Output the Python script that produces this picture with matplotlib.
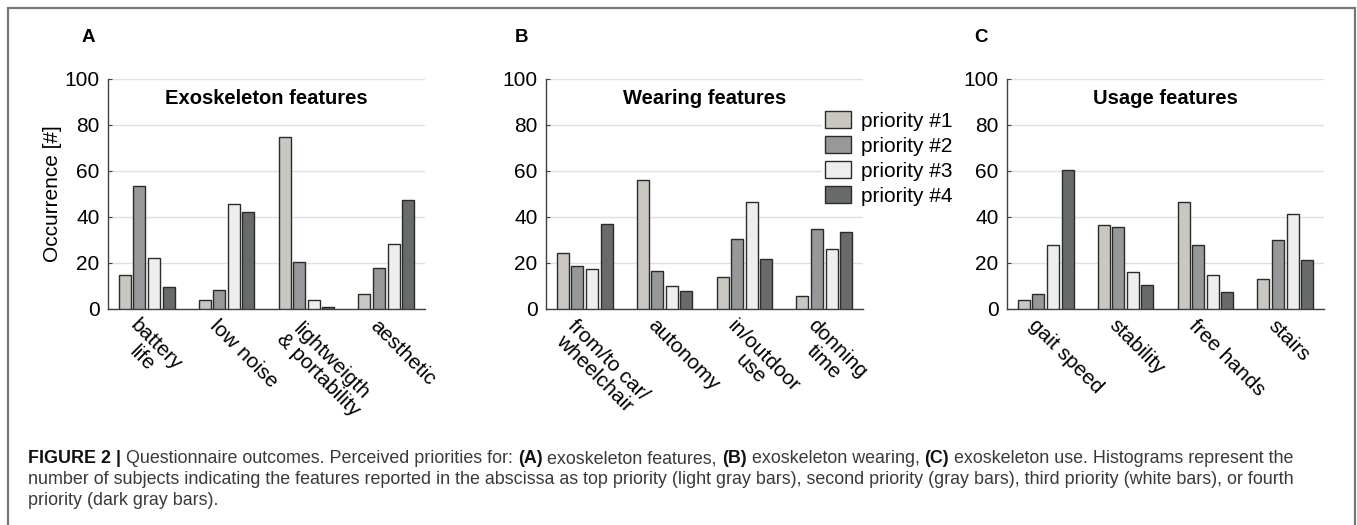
import numpy as np
import matplotlib
matplotlib.use("Agg")
from matplotlib import pyplot as plt
from matplotlib.patches import Rectangle

plt.rcParams['font.family'] = ['Liberation Sans', 'DejaVu Sans']

# data
priorities = ["priority #1", "priority #2", "priority #3", "priority #4"]
colors = ["#c9c7bf", "#97989a", "#eeeeee", "#686b6b"]

titles = ["Exoskeleton features", "Wearing features", "Usage features"]
letters = ["A", "B", "C"]

labels_A = ["battery\nlife", "low noise", "lightweigth\n& portability", "aesthetic"]
labels_B = ["from/to car/\nwheelchair", "autonomy", "in/outdoor\nuse", "donning\ntime"]
labels_C = ["gait speed", "stability", "free hands", "stairs"]

# rows = features, columns = priority #1..#4
vals_A = [[15, 53.3, 22.3, 9.4],
          [3.8, 8.4, 45.8, 42],
          [74.6, 20.6, 3.8, 0.9],
          [6.5, 17.8, 28.1, 47.5]]
vals_B = [[24.3, 18.6, 17.4, 37],
          [56.1, 16.4, 9.9, 7.7],
          [14.1, 30.4, 46.7, 21.7],
          [5.7, 34.8, 26.1, 33.6]]
vals_C = [[3.8, 6.5, 27.7, 60.6],
          [36.5, 35.5, 15.9, 10.6],
          [46.7, 28, 14.9, 7.4],
          [13, 30, 41.4, 21.3]]

W, H = 1357, 525
fig = plt.figure(figsize=(W/100, H/100), dpi=100)

# frame around the whole figure
fig.patches.append(Rectangle((8/W, -0.05), 1347/W, 1.05 - 8/H, transform=fig.transFigure,
                             fill=False, edgecolor="#777777", lw=1.6))

lefts = [108, 546, 1007]
panels = [(labels_A, vals_A), (labels_B, vals_B), (labels_C, vals_C)]
letter_x = [88, 522, 981]
step = 0.183
bw = 0.15

axes = []
for k, (labels, vals) in enumerate(panels):
    ax = fig.add_axes([lefts[k]/W, 1-309/H, 317/W, 230/H])
    axes.append(ax)
    vals = np.array(vals)
    x = np.arange(1, len(labels)+1)
    for j in range(4):
        ax.bar(x + (j-1.5)*step, vals[:, j], width=bw, color=colors[j],
               edgecolor="#2b2b2b", linewidth=1.0, label=priorities[j], zorder=3)
    ax.set_xlim(0.517, 4.483)
    ax.set_ylim(0, 100)
    ax.set_yticks([0, 20, 40, 60, 80, 100])
    ax.set_xticks([])
    ax.grid(axis="y", color="#e0e0e0", lw=1)
    ax.set_axisbelow(True)
    for s in ["top", "right"]:
        ax.spines[s].set_visible(False)
    for s in ["left", "bottom"]:
        ax.spines[s].set_color("#404040")
        ax.spines[s].set_linewidth(1)
    ax.tick_params(axis="y", direction="in", length=3, labelsize=15, pad=6, color="#404040")
    for i, lab in enumerate(labels):
        ax.annotate(lab, xy=(x[i], 0), xycoords="data", xytext=(-5, -5),
                    textcoords="offset points", rotation=-45, rotation_mode="anchor",
                    ha="left", va="top", multialignment="center", fontsize=15,
                    linespacing=1.0)
    ax.text(0.5, 0.917, titles[k], transform=ax.transAxes, ha="center", va="center",
            fontsize=14.5, fontweight="bold")
    fig.text(letter_x[k]/W, 1-37/H, letters[k], ha="center", va="center",
             fontsize=13.5, fontweight="bold")

axes[0].set_ylabel("Occurrence [#]", fontsize=15)
axes[0].yaxis.set_label_coords(-0.145, 0.5)

leg = axes[1].legend(loc="upper left", bbox_to_anchor=(822/W, 1-108/H),
                     bbox_transform=fig.transFigure, fontsize=15, frameon=True,
                     facecolor="white", edgecolor="none", framealpha=1,
                     handlelength=1.25, handleheight=0.87, handletextpad=0.45,
                     labelspacing=0.26, borderpad=0.15, borderaxespad=0)
leg.set_zorder(5)

# caption with bold pieces
caption = [
    [("FIGURE 2 |", True), (" Questionnaire outcomes. Perceived priorities for: ", False),
     ("(A)", True), (" exoskeleton features, ", False), ("(B)", True),
     (" exoskeleton wearing, ", False), ("(C)", True),
     (" exoskeleton use. Histograms represent the", False)],
    [("number of subjects indicating the features reported in the abscissa as top priority "
      "(light gray bars), second priority (gray bars), third priority (white bars), or fourth", False)],
    [("priority (dark gray bars).", False)],
]
baselines = [463, 484, 505]
renderer = fig.canvas.get_renderer()


def draw_line(parts, y, fs):
    xpos = 28
    items = []
    for txt, bold in parts:
        t = fig.text(xpos/W, 1-y/H, txt, fontsize=fs, va="baseline", ha="left",
                     fontweight="bold" if bold else "normal",
                     color="#111111" if bold else "#3a3a3a")
        bb = t.get_window_extent(renderer)
        xpos += bb.width
        items.append(t)
    return xpos, items


# fit the first caption line to the measured width
end, items = draw_line(caption[0], baselines[0], 10)
for t in items:
    t.remove()
fs = 10 * (1294 - 28) / (end - 28)
for parts, y in zip(caption, baselines):
    draw_line(parts, y, fs)

fig.savefig("out.png", dpi=100)
